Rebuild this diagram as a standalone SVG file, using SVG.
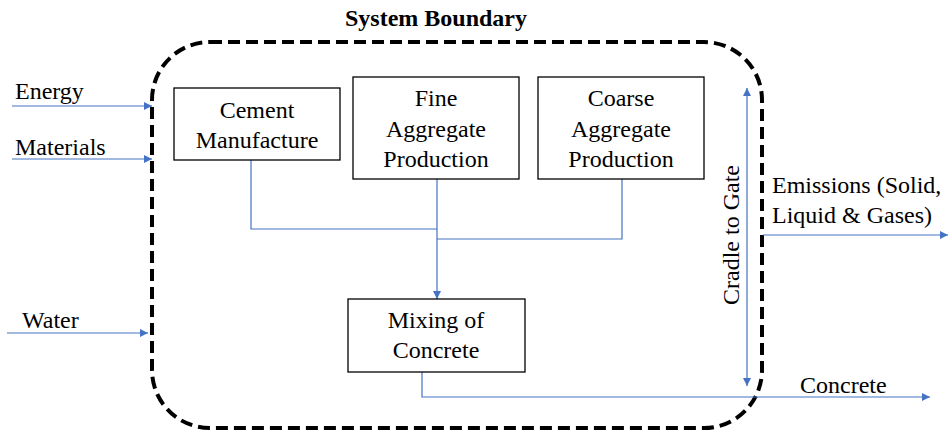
<svg xmlns="http://www.w3.org/2000/svg" width="952" height="432" viewBox="0 0 952 432">
  <style>
    text { font-family: 'Liberation Serif', 'DejaVu Serif', serif; font-size: 24px; fill: #000; }
    .c { text-anchor: middle; }
    .title { font-weight: bold; }
    .box { fill: #fff; stroke: #000; stroke-width: 1.3; }
    .flow { fill: none; stroke: #4472C4; stroke-width: 1.2; }
    .boundary { fill: none; stroke: #000; stroke-width: 4; stroke-dasharray: 12 6; }
  </style>
  <defs>
    <marker id="arr" viewBox="0 0 10 10" refX="10" refY="5" markerWidth="8" markerHeight="8" markerUnits="userSpaceOnUse" orient="auto-start-reverse">
      <path d="M0,0 L10,5 L0,10 z" fill="#4472C4"/>
    </marker>
  </defs>

  <!-- system boundary -->
  <g id="boundary">
    <rect class="boundary" x="152" y="42" width="610" height="386" rx="58" ry="58"/>
    <text class="c title" x="436" y="26" font-family="Liberation Serif, serif">System Boundary</text>
  </g>

  <!-- connectors -->
  <g id="connectors">
    <line class="flow" x1="12" y1="106" x2="152" y2="106" marker-end="url(#arr)"/>
    <line class="flow" x1="12" y1="159" x2="152" y2="159" marker-end="url(#arr)"/>
    <line class="flow" x1="7" y1="333" x2="148" y2="333" marker-end="url(#arr)"/>
    <polyline class="flow" points="251,160 251,229 437,229"/>
    <polyline class="flow" points="622,179 622,239 437,239"/>
    <line class="flow" x1="437" y1="179" x2="437" y2="299" marker-end="url(#arr)"/>
    <polyline class="flow" points="422,372 422,397 930,397" marker-end="url(#arr)"/>
    <line class="flow" x1="763" y1="235" x2="948" y2="235" marker-end="url(#arr)"/>
    <line class="flow" x1="747" y1="88" x2="747" y2="386" marker-start="url(#arr)" marker-end="url(#arr)"/>
  </g>

  <!-- external labels -->
  <g id="inputs">
    <text x="15" y="99">Energy</text>
    <text x="15" y="155">Materials</text>
    <text x="22" y="328">Water</text>
  </g>
  <g id="outputs">
    <text x="772" y="193">Emissions (Solid,</text>
    <text x="772" y="223">Liquid &amp; Gases)</text>
    <text x="800" y="393">Concrete</text>
  </g>
  <g id="cradle-to-gate">
    <text class="c" transform="translate(739,235) rotate(-90)">Cradle to Gate</text>
  </g>

  <!-- process nodes -->
  <g id="cement">
    <rect class="box" x="174" y="88" width="166" height="72"/>
    <text class="c" x="257" y="118">Cement</text>
    <text class="c" x="257" y="148">Manufacture</text>
  </g>
  <g id="fine-aggregate">
    <rect class="box" x="353" y="77" width="166" height="102"/>
    <text class="c" x="436" y="106">Fine</text>
    <text class="c" x="436" y="137">Aggregate</text>
    <text class="c" x="436" y="167">Production</text>
  </g>
  <g id="coarse-aggregate">
    <rect class="box" x="538" y="77" width="166" height="102"/>
    <text class="c" x="621" y="106">Coarse</text>
    <text class="c" x="621" y="137">Aggregate</text>
    <text class="c" x="621" y="167">Production</text>
  </g>
  <g id="mixing">
    <rect class="box" x="348" y="299" width="177" height="73"/>
    <text class="c" x="436" y="328">Mixing of</text>
    <text class="c" x="436" y="358">Concrete</text>
  </g>
</svg>
